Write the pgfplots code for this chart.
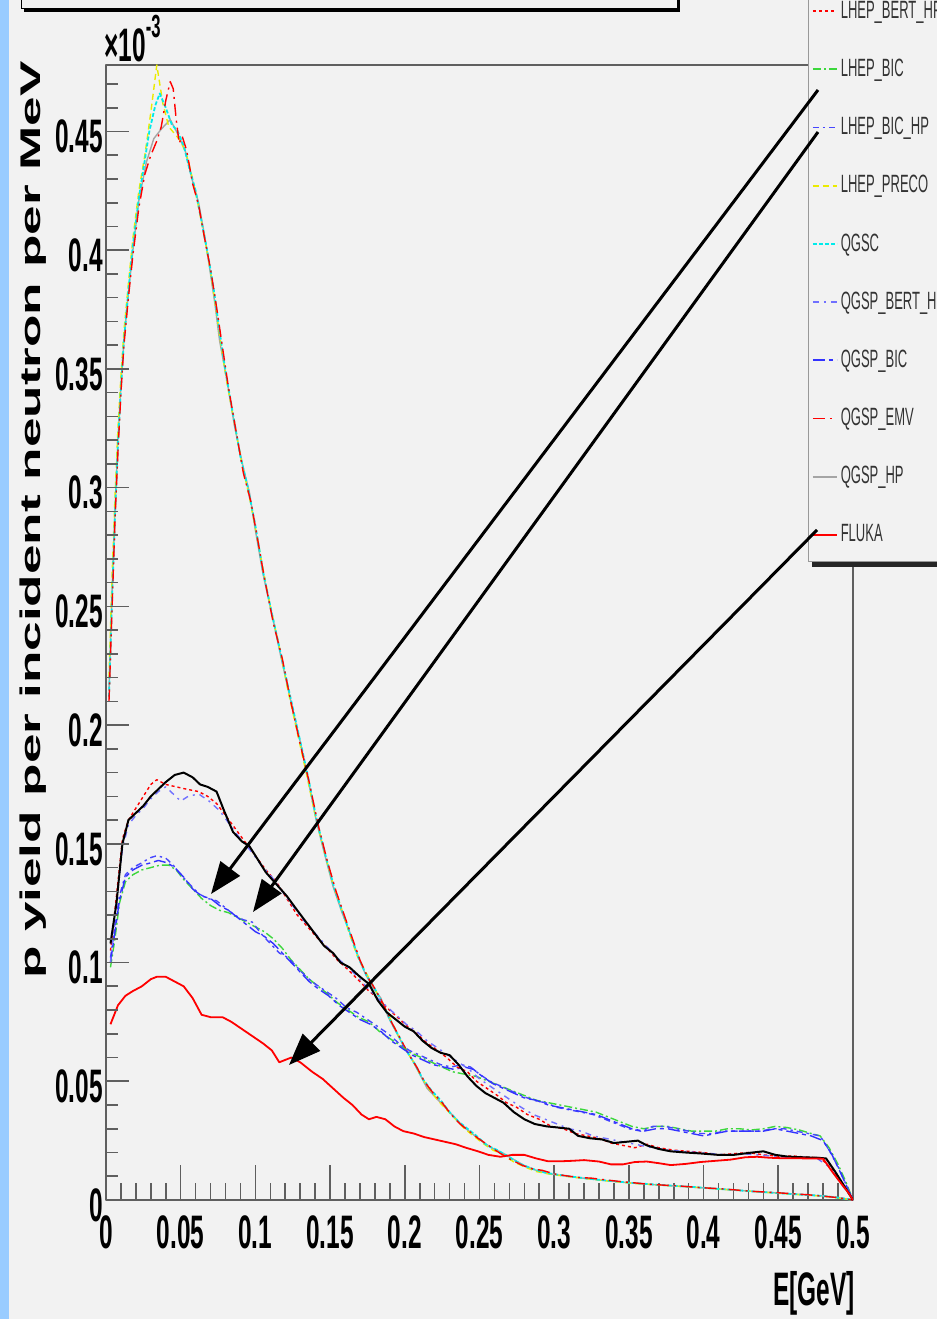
\documentclass[border=0pt]{standalone}
\usepackage{fontspec}
\setmainfont{Liberation Sans}
\newfontfamily\condfont[FakeStretch=0.52]{Liberation Sans}
\newfontfamily\ylabfont[FakeStretch=1.87]{Liberation Sans}
\usepackage{pgfplots}
\pgfplotsset{compat=1.18}
\usetikzlibrary{arrows.meta}
\definecolor{bg}{RGB}{242,242,242}
\definecolor{strip}{RGB}{153,204,255}
\definecolor{framec}{RGB}{95,95,95}
\definecolor{rootred}{RGB}{255,0,0}
\definecolor{rootgreen}{RGB}{60,215,60}
\definecolor{rootblue}{RGB}{50,50,255}
\definecolor{rootbluetwo}{RGB}{70,70,255}
\definecolor{rootyellow}{RGB}{235,235,0}
\definecolor{rootcyan}{RGB}{0,235,235}
\definecolor{rootgray}{RGB}{165,165,165}
\newcommand{\tickfont}{\condfont\bfseries\fontsize{23.5pt}{24pt}\selectfont}

\pgfplotsset{
  lBERTHP/.style={color=rootred, line width=0.7pt, dash pattern=on 1.5pt off 1.5pt},
  lBIC/.style={color=rootgreen, line width=0.7pt, dash pattern=on 4pt off 1.5pt on 1pt off 1.5pt},
  lBICHP/.style={color=rootbluetwo, line width=0.7pt, dash pattern=on 3pt off 2pt on 1.2pt off 2pt},
  lPRECO/.style={color=rootyellow, line width=0.7pt, dash pattern=on 3pt off 2pt},
  lQGSC/.style={color=rootcyan, line width=0.9pt, dash pattern=on 2pt off 1pt},
  lQBERTHP/.style={color=rootblue!70, line width=0.7pt, dash pattern=on 3pt off 2.5pt on 1pt off 2.5pt},
  lQBIC/.style={color=rootblue, line width=0.7pt, dash pattern=on 6pt off 2pt on 2pt off 2pt},
  lEMV/.style={color=rootred, line width=0.7pt, dash pattern=on 6pt off 2.5pt on 1pt off 2.5pt},
  lHP/.style={color=rootgray, line width=0.7pt},
  lFLUKA/.style={color=rootred, line width=0.9pt},
  lBLACK/.style={color=black, line width=1.0pt},
}

\begin{document}
\begin{tikzpicture}
\clip (0,0) rectangle (468.5pt,659.5pt);
\fill[bg] (0,0) rectangle (468.5pt,659.5pt);
\begin{scope}[x=0.5pt,y=-0.5pt,yshift=659.5pt]
  \fill[strip] (0,0) rectangle (9,1319);
  % title box (cut off at top)
  \fill[black] (24,-30) rectangle (680,12);
  \filldraw[fill=bg, draw=black, line width=0.5pt] (21,-30) rectangle (677,9);
  % x10^-3
  \node[anchor=base west, inner sep=0pt] at (104,62)
    {\tickfont ×10\raisebox{12pt}{\fontsize{16pt}{16pt}\selectfont -3}};
\end{scope}

% ---------------- main axis: data, frame, x ticks ----------------
\begin{axis}[
  at={(53pt,59.5pt)}, anchor=south west,
  scale only axis, width=373.5pt, height=567.5pt,
  xmin=0, xmax=0.5, ymin=0, ymax=0.478,
  axis line style={draw=framec, line width=1pt},
  every tick/.style={framec, line width=0.8pt},
  tick align=inside,
  xtick pos=left,
  xtick={0,0.05,0.1,0.15,0.2,0.25,0.3,0.35,0.4,0.45,0.5},
  xticklabels={0,0.05,0.1,0.15,0.2,0.25,0.3,0.35,0.4,0.45,0.5},
  minor x tick num=4,
  ytick=\empty,
  major tick length=17.5pt, minor tick length=8.5pt,
  /pgf/number format/assume math mode=true,
  xticklabel style={font=\tickfont, anchor=north, inner sep=0pt, yshift=-7.5pt},
  xlabel={E[GeV]},
  xlabel style={at={(axis description cs:1.003,-0.082)}, anchor=east, inner sep=0pt,
    font=\tickfont},
  scaled ticks=false,
  line join=round,
]
% ---- high group ----
\addplot[lHP] table {
x y
0.002 0.215
0.004 0.255
0.006 0.290
0.008 0.320
0.010 0.343
0.012 0.362
0.015 0.382
0.018 0.400
0.022 0.421
0.027 0.437
0.032 0.447
0.037 0.451
0.043 0.455
0.048 0.449
0.053 0.442
0.058 0.429
0.062 0.420
0.066 0.406
0.069 0.394
0.073 0.377
0.076 0.362
0.081 0.345
0.086 0.326
0.092 0.308
0.096 0.298
0.100 0.282
0.105 0.264
0.112 0.244
0.117 0.229
0.123 0.212
0.130 0.193
0.135 0.178
0.141 0.159
0.147 0.144
0.152 0.132
0.158 0.121
0.163 0.113
0.168 0.104
0.173 0.096
0.178 0.090
0.184 0.085
0.189 0.077
0.194 0.071
0.200 0.064
0.205 0.059
0.210 0.053
0.215 0.047
0.221 0.043
0.227 0.039
0.233 0.035
0.239 0.031
0.245 0.028
0.251 0.025
0.258 0.022
0.266 0.0196
0.273 0.017
0.280 0.0145
0.288 0.0125
0.296 0.0112
0.304 0.0104
0.313 0.0097
0.322 0.009
0.331 0.0084
0.342 0.0077
0.353 0.0071
0.363 0.0066
0.373 0.0062
0.385 0.0057
0.397 0.0052
0.409 0.0047
0.421 0.0042
0.433 0.0036
0.446 0.0031
0.458 0.0026
0.470 0.0021
0.480 0.0017
0.490 0.0010
0.500 0.0000
};
\addplot[lPRECO] table {
x y
0.002 0.220
0.004 0.262
0.006 0.296
0.008 0.325
0.010 0.347
0.012 0.366
0.015 0.386
0.018 0.405
0.022 0.425
0.026 0.440
0.030 0.458
0.034 0.478
0.038 0.462
0.042 0.452
0.046 0.449
0.050 0.446
0.054 0.440
0.058 0.430
0.062 0.418
0.066 0.405
0.070 0.391
0.073 0.378
0.077 0.360
0.081 0.344
0.086 0.327
0.091 0.310
0.096 0.296
0.100 0.283
0.105 0.266
0.110 0.250
0.116 0.233
0.122 0.214
0.128 0.197
0.134 0.180
0.140 0.162
0.146 0.147
0.152 0.133
0.158 0.122
0.163 0.112
0.168 0.103
0.173 0.097
0.178 0.091
0.184 0.084
0.189 0.078
0.195 0.070
0.200 0.064
0.206 0.058
0.211 0.052
0.216 0.047
0.222 0.042
0.228 0.038
0.234 0.034
0.240 0.030
0.246 0.027
0.252 0.024
0.259 0.021
0.266 0.019
0.273 0.016
0.280 0.014
0.288 0.012
0.296 0.011
0.305 0.0102
0.314 0.0095
0.323 0.0089
0.333 0.0082
0.343 0.0076
0.353 0.0070
0.364 0.0066
0.375 0.0061
0.386 0.0057
0.398 0.0052
0.410 0.0046
0.422 0.0041
0.434 0.0036
0.446 0.0030
0.458 0.0025
0.470 0.0020
0.480 0.0016
0.490 0.0009
0.500 0.0000
};
\addplot[lQGSC] table {
x y
0.002 0.212
0.004 0.252
0.006 0.288
0.008 0.318
0.010 0.342
0.012 0.362
0.015 0.383
0.018 0.402
0.022 0.422
0.026 0.438
0.029 0.450
0.033 0.461
0.036 0.466
0.040 0.460
0.044 0.453
0.048 0.450
0.052 0.444
0.056 0.434
0.060 0.425
0.064 0.412
0.068 0.399
0.072 0.384
0.076 0.366
0.080 0.349
0.085 0.331
0.090 0.313
0.095 0.300
0.100 0.284
0.105 0.265
0.111 0.247
0.117 0.230
0.123 0.213
0.129 0.196
0.135 0.179
0.141 0.160
0.147 0.145
0.153 0.131
0.159 0.120
0.164 0.111
0.169 0.102
0.174 0.095
0.179 0.090
0.185 0.083
0.190 0.076
0.196 0.069
0.201 0.063
0.207 0.057
0.212 0.051
0.218 0.046
0.224 0.042
0.230 0.037
0.236 0.033
0.242 0.030
0.248 0.027
0.255 0.023
0.262 0.021
0.270 0.018
0.278 0.015
0.286 0.013
0.294 0.0115
0.302 0.0107
0.311 0.0099
0.320 0.0092
0.330 0.0085
0.340 0.0079
0.350 0.0073
0.361 0.0068
0.372 0.0063
0.383 0.0059
0.395 0.0054
0.407 0.0048
0.419 0.0043
0.431 0.0037
0.443 0.0032
0.455 0.0027
0.467 0.0022
0.478 0.0018
0.489 0.0011
0.500 0.0000
};
\addplot[lEMV] table {
x y
0.002 0.210
0.004 0.248
0.006 0.286
0.008 0.315
0.010 0.340
0.012 0.360
0.015 0.380
0.018 0.398
0.022 0.418
0.026 0.432
0.030 0.440
0.034 0.446
0.037 0.452
0.040 0.463
0.043 0.471
0.045 0.468
0.047 0.455
0.049 0.445
0.051 0.448
0.054 0.442
0.058 0.428
0.062 0.419
0.066 0.405
0.070 0.392
0.074 0.376
0.078 0.359
0.082 0.342
0.087 0.324
0.092 0.306
0.097 0.294
0.101 0.280
0.106 0.262
0.112 0.243
0.118 0.228
0.124 0.209
0.130 0.192
0.136 0.176
0.142 0.158
0.148 0.143
0.154 0.130
0.160 0.119
0.165 0.110
0.170 0.101
0.175 0.094
0.180 0.089
0.186 0.082
0.191 0.075
0.197 0.068
0.202 0.062
0.208 0.056
0.213 0.050
0.219 0.045
0.225 0.041
0.231 0.036
0.237 0.032
0.243 0.029
0.249 0.026
0.256 0.023
0.263 0.020
0.271 0.017
0.279 0.0145
0.286 0.0130
0.292 0.0125
0.300 0.0110
0.308 0.0102
0.316 0.0095
0.325 0.0092
0.334 0.0085
0.344 0.0078
0.354 0.0072
0.364 0.0066
0.375 0.0062
0.386 0.0058
0.398 0.0052
0.410 0.0048
0.422 0.0042
0.434 0.0036
0.446 0.0032
0.458 0.0027
0.470 0.0022
0.480 0.0016
0.490 0.0010
0.500 0.0000
};
% ---- BIC group ----
\addplot[lBIC] table {
x y
0.003 0.098
0.006 0.110
0.009 0.125
0.013 0.134
0.018 0.137
0.024 0.139
0.030 0.140
0.036 0.141
0.042 0.141
0.047 0.139
0.052 0.135
0.058 0.131
0.064 0.127
0.070 0.124
0.076 0.122
0.082 0.121
0.088 0.119
0.094 0.117
0.100 0.115
0.106 0.113
0.112 0.110
0.118 0.106
0.124 0.101
0.130 0.097
0.136 0.093
0.142 0.090
0.148 0.087
0.155 0.083
0.162 0.080
0.169 0.077
0.176 0.075
0.183 0.071
0.190 0.068
0.197 0.065
0.204 0.062
0.211 0.060
0.218 0.058
0.225 0.056
0.232 0.054
0.240 0.053
0.248 0.052
0.256 0.050
0.264 0.048
0.272 0.046
0.280 0.044
0.288 0.042
0.296 0.041
0.304 0.040
0.312 0.039
0.320 0.038
0.328 0.037
0.336 0.035
0.344 0.033
0.352 0.031
0.360 0.030
0.368 0.031
0.376 0.031
0.384 0.030
0.392 0.029
0.400 0.029
0.408 0.029
0.416 0.030
0.424 0.030
0.432 0.0295
0.440 0.030
0.448 0.031
0.456 0.0305
0.464 0.0295
0.472 0.028
0.478 0.027
0.484 0.022
0.490 0.015
0.495 0.008
0.500 0.000
};
\addplot[lBICHP] table {
x y
0.003 0.102
0.006 0.115
0.009 0.128
0.013 0.137
0.018 0.140
0.024 0.142
0.029 0.144
0.034 0.145
0.040 0.144
0.045 0.141
0.050 0.137
0.056 0.133
0.062 0.129
0.068 0.127
0.074 0.126
0.080 0.123
0.086 0.120
0.092 0.118
0.098 0.117
0.104 0.112
0.110 0.108
0.116 0.104
0.122 0.102
0.128 0.098
0.134 0.094
0.140 0.091
0.147 0.088
0.154 0.085
0.161 0.081
0.168 0.079
0.175 0.076
0.182 0.073
0.189 0.070
0.196 0.066
0.203 0.063
0.210 0.061
0.217 0.059
0.224 0.057
0.231 0.056
0.238 0.057
0.244 0.056
0.250 0.053
0.257 0.050
0.264 0.048
0.271 0.046
0.278 0.044
0.286 0.042
0.294 0.041
0.302 0.039
0.310 0.038
0.318 0.037
0.326 0.036
0.334 0.034
0.342 0.032
0.350 0.030
0.358 0.029
0.366 0.031
0.374 0.031
0.382 0.030
0.390 0.029
0.398 0.028
0.406 0.028
0.414 0.029
0.422 0.029
0.430 0.029
0.438 0.029
0.446 0.030
0.454 0.030
0.462 0.029
0.470 0.028
0.478 0.027
0.484 0.021
0.490 0.014
0.495 0.007
0.500 0.000
};
\addplot[lQBIC] table {
x y
0.003 0.100
0.006 0.113
0.009 0.126
0.013 0.136
0.018 0.139
0.024 0.141
0.030 0.142
0.035 0.143
0.041 0.142
0.046 0.140
0.052 0.136
0.058 0.131
0.064 0.128
0.070 0.127
0.076 0.124
0.082 0.122
0.088 0.119
0.094 0.116
0.100 0.113
0.106 0.111
0.112 0.108
0.118 0.104
0.124 0.100
0.130 0.096
0.136 0.092
0.142 0.089
0.149 0.086
0.156 0.082
0.163 0.079
0.170 0.076
0.177 0.074
0.184 0.071
0.191 0.067
0.198 0.064
0.205 0.061
0.212 0.059
0.219 0.057
0.226 0.056
0.233 0.055
0.240 0.056
0.246 0.055
0.252 0.052
0.259 0.049
0.266 0.047
0.273 0.045
0.280 0.043
0.288 0.042
0.296 0.040
0.304 0.039
0.312 0.038
0.320 0.037
0.328 0.036
0.336 0.034
0.344 0.032
0.352 0.030
0.360 0.029
0.368 0.030
0.376 0.030
0.384 0.029
0.392 0.028
0.400 0.027
0.408 0.028
0.416 0.029
0.424 0.029
0.432 0.029
0.440 0.029
0.448 0.030
0.456 0.029
0.464 0.028
0.472 0.027
0.480 0.025
0.486 0.019
0.492 0.011
0.500 0.000
};
% ---- Bertini group ----
\addplot[lBERTHP] table {
x y
0.003 0.105
0.007 0.128
0.011 0.152
0.015 0.160
0.020 0.165
0.025 0.170
0.030 0.175
0.034 0.177
0.040 0.175
0.047 0.174
0.054 0.173
0.062 0.172
0.068 0.170
0.074 0.167
0.080 0.162
0.087 0.156
0.094 0.150
0.100 0.145
0.107 0.139
0.114 0.134
0.121 0.127
0.128 0.120
0.135 0.115
0.142 0.110
0.148 0.106
0.155 0.101
0.162 0.097
0.170 0.092
0.176 0.088
0.182 0.085
0.188 0.081
0.195 0.077
0.202 0.073
0.208 0.070
0.215 0.066
0.222 0.063
0.228 0.060
0.235 0.056
0.242 0.054
0.248 0.050
0.255 0.047
0.262 0.044
0.268 0.041
0.275 0.039
0.282 0.036
0.290 0.034
0.298 0.031
0.306 0.030
0.314 0.028
0.322 0.027
0.330 0.026
0.338 0.024
0.346 0.023
0.354 0.022
0.362 0.0235
0.370 0.022
0.380 0.021
0.390 0.0205
0.400 0.020
0.410 0.019
0.420 0.0195
0.430 0.020
0.440 0.019
0.450 0.0185
0.460 0.0185
0.470 0.018
0.478 0.0178
0.486 0.013
0.493 0.007
0.500 0.000
};
\addplot[lQBERTHP] table {
x y
0.003 0.100
0.007 0.125
0.011 0.148
0.015 0.158
0.020 0.162
0.025 0.165
0.030 0.169
0.035 0.172
0.040 0.174
0.045 0.171
0.050 0.168
0.055 0.170
0.062 0.171
0.069 0.168
0.076 0.164
0.083 0.158
0.090 0.152
0.097 0.147
0.104 0.141
0.111 0.136
0.118 0.130
0.125 0.124
0.132 0.118
0.139 0.113
0.146 0.108
0.153 0.103
0.160 0.099
0.167 0.095
0.174 0.090
0.180 0.086
0.187 0.082
0.194 0.078
0.201 0.074
0.208 0.071
0.215 0.067
0.222 0.064
0.229 0.061
0.236 0.058
0.243 0.055
0.250 0.051
0.257 0.048
0.264 0.045
0.271 0.042
0.278 0.039
0.286 0.036
0.294 0.034
0.302 0.032
0.310 0.030
0.318 0.029
0.326 0.027
0.334 0.026
0.342 0.025
0.350 0.024
0.358 0.023
0.366 0.022
0.376 0.021
0.386 0.0205
0.396 0.020
0.406 0.0195
0.416 0.019
0.426 0.0195
0.436 0.019
0.446 0.0185
0.456 0.018
0.466 0.018
0.476 0.0175
0.484 0.014
0.492 0.007
0.500 0.000
};
\addplot[lBLACK] table {
x y
0.003 0.108
0.007 0.125
0.011 0.150
0.015 0.160
0.020 0.163
0.025 0.166
0.030 0.170
0.035 0.173
0.040 0.176
0.046 0.179
0.052 0.180
0.058 0.178
0.063 0.175
0.068 0.174
0.074 0.172
0.079 0.164
0.085 0.155
0.091 0.151
0.096 0.149
0.102 0.143
0.107 0.138
0.114 0.133
0.121 0.128
0.128 0.122
0.134 0.117
0.140 0.112
0.146 0.107
0.152 0.104
0.157 0.100
0.163 0.098
0.170 0.094
0.176 0.091
0.182 0.084
0.188 0.079
0.194 0.076
0.200 0.073
0.206 0.071
0.212 0.067
0.218 0.064
0.224 0.062
0.230 0.061
0.236 0.057
0.242 0.052
0.248 0.048
0.254 0.045
0.260 0.043
0.266 0.041
0.273 0.037
0.280 0.034
0.287 0.032
0.295 0.031
0.303 0.0305
0.310 0.030
0.316 0.027
0.324 0.026
0.332 0.0255
0.340 0.024
0.348 0.0245
0.356 0.025
0.362 0.023
0.370 0.0215
0.378 0.0205
0.388 0.020
0.398 0.0196
0.410 0.019
0.420 0.019
0.430 0.0198
0.440 0.0205
0.448 0.019
0.456 0.0183
0.466 0.018
0.476 0.0178
0.482 0.0175
0.488 0.012
0.494 0.006
0.500 0.000
};
% ---- FLUKA ----
\addplot[lFLUKA] table {
x y
0.003 0.074
0.008 0.082
0.013 0.086
0.018 0.088
0.024 0.090
0.030 0.093
0.034 0.094
0.040 0.094
0.046 0.092
0.052 0.090
0.058 0.085
0.064 0.078
0.070 0.077
0.078 0.077
0.084 0.075
0.091 0.072
0.098 0.069
0.105 0.066
0.111 0.063
0.116 0.058
0.120 0.059
0.124 0.060
0.130 0.058
0.138 0.054
0.145 0.051
0.152 0.047
0.159 0.043
0.165 0.040
0.171 0.036
0.176 0.034
0.181 0.035
0.187 0.034
0.193 0.031
0.199 0.029
0.206 0.028
0.213 0.0265
0.220 0.0255
0.227 0.0245
0.234 0.0235
0.241 0.022
0.249 0.0205
0.256 0.019
0.264 0.0182
0.272 0.019
0.280 0.019
0.288 0.0175
0.296 0.0163
0.304 0.0163
0.312 0.0165
0.320 0.0168
0.330 0.0162
0.338 0.0150
0.346 0.0150
0.354 0.0160
0.362 0.0162
0.370 0.0155
0.378 0.0147
0.388 0.0152
0.398 0.0160
0.408 0.0165
0.418 0.0170
0.428 0.0180
0.436 0.0182
0.444 0.0178
0.452 0.0176
0.460 0.0176
0.470 0.0175
0.480 0.0174
0.486 0.012
0.492 0.007
0.497 0.003
0.500 0.000
};
\end{axis}

% legend box (cut off at top and right)
\begin{scope}[x=0.5pt,y=-0.5pt,yshift=659.5pt]
  \fill[black!85] (812,-30) rectangle (980,567);
  \filldraw[fill=bg, draw=gray!80, line width=0.5pt] (808,-30) rectangle (975,562);
\end{scope}

% ---------------- second axis: y ticks, y label, legend ----------------
\begin{axis}[
  at={(53pt,59.5pt)}, anchor=south west,
  scale only axis, width=373.5pt, height=567.5pt,
  xmin=0, xmax=0.5, ymin=0, ymax=0.478,
  axis line style={draw=none},
  every tick/.style={framec, line width=0.8pt},
  tick align=inside,
  xtick=\empty,
  ytick pos=left,
  ytick={0,0.05,0.1,0.15,0.2,0.25,0.3,0.35,0.4,0.45},
  yticklabels={0,0.05,0.1,0.15,0.2,0.25,0.3,0.35,0.4,0.45},
  minor ytick={0.01,0.02,0.03,0.04,0.06,0.07,0.08,0.09,0.11,0.12,0.13,0.14,0.16,0.17,0.18,0.19,0.21,0.22,0.23,0.24,0.26,0.27,0.28,0.29,0.31,0.32,0.33,0.34,0.36,0.37,0.38,0.39,0.41,0.42,0.43,0.44,0.46,0.47},
  major tick length=11.5pt, minor tick length=6pt,
  /pgf/number format/assume math mode=true,
  yticklabel style={font=\tickfont, anchor=east, inner sep=0pt, xshift=-1.5pt, yshift=-2.5pt},
  ylabel={p yield per incident neutron per MeV},
  ylabel style={at={(axis description cs:-0.098,0.599)}, anchor=center, inner sep=0pt,
    font={\ylabfont\bfseries\fontsize{14.2pt}{15pt}\selectfont}},
  scaled ticks=false,
  legend style={at={(axis description cs:0.9451,1.0732)}, anchor=north west,
    draw=none, fill=none, inner sep=0pt, outer sep=0pt,
    font={\condfont\fontsize{12.5pt}{13pt}\selectfont},
    text=black!80,
    nodes={inner sep=0pt, minimum height=29.1pt},
    column sep=1.5pt, row sep=0pt},
  legend cell align=left,
  legend image code/.code={\draw[#1, line width=0.9pt] (0pt,0pt) -- (12pt,0pt);},
]
\addlegendimage{lBERTHP}\addlegendentry{LHEP\_BERT\_HP}
\addlegendimage{lBIC}\addlegendentry{LHEP\_BIC}
\addlegendimage{color=rootbluetwo, dash pattern=on 3pt off 2pt on 1.2pt off 2pt}\addlegendentry{LHEP\_BIC\_HP}
\addlegendimage{lPRECO}\addlegendentry{LHEP\_PRECO}
\addlegendimage{lQGSC}\addlegendentry{QGSC}
\addlegendimage{lQBERTHP}\addlegendentry{QGSP\_BERT\_HP}
\addlegendimage{lQBIC}\addlegendentry{QGSP\_BIC}
\addlegendimage{lEMV}\addlegendentry{QGSP\_EMV}
\addlegendimage{lHP}\addlegendentry{QGSP\_HP}
\addlegendimage{lFLUKA}\addlegendentry{FLUKA}
\end{axis}

% arrows
\begin{scope}[x=0.5pt,y=-0.5pt,yshift=659.5pt]
  \draw[black, line width=1.5pt, -{Triangle[length=16pt,width=12pt]}] (818,90) -- (211,894);
  \draw[black, line width=1.5pt, -{Triangle[length=16pt,width=12pt]}] (818,132) -- (253,912);
  \draw[black, line width=1.5pt, -{Triangle[length=16pt,width=12pt]}] (817,530) -- (289,1065);
\end{scope}
\end{tikzpicture}
\end{document}
